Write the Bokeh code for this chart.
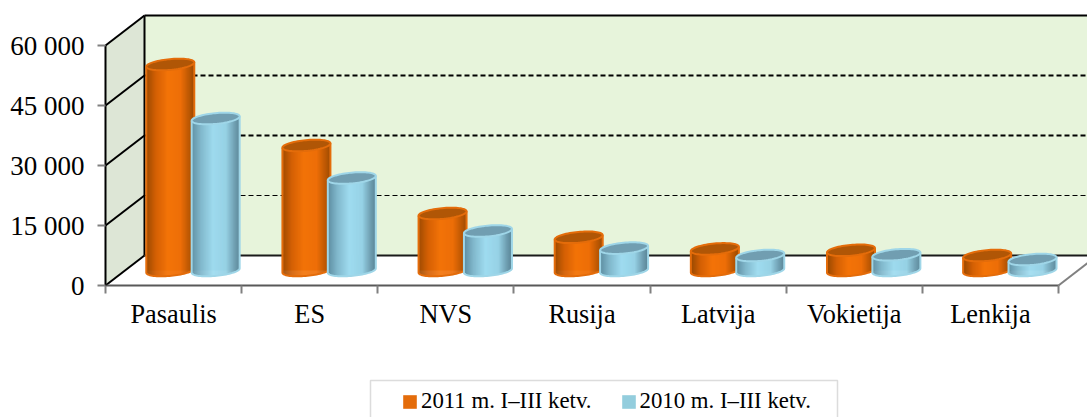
import numpy as np
from bokeh.embed import file_html
from bokeh.resources import INLINE
from bokeh.plotting import figure
from bokeh.models import (Range1d, FixedTicker, LinearAxis, Legend, LegendItem,
                          BoxAnnotation, ColumnDataSource)

categories = ["Pasaulis", "ES", "NVS", "Rusija", "Latvija", "Vokietija", "Lenkija"]
series_2011 = [51500, 31250, 14250, 8300, 5400, 5050, 3750]
series_2010 = [38000, 23125, 9875, 5600, 3750, 3950, 2750]
series_names = ["2011 m. I\u2013III ketv.", "2010 m. I\u2013III ketv."]
y_ticks = [0, 15000, 30000, 45000, 60000]
y_tick_labels = ["0", "15 000", "30 000", "45 000", "60 000"]

# page geometry (the page itself has no margin here: canvas origin is the window origin)
W, H = 1087, 417
LEFT, BOTTOM = 105, 285
GROUP_PX = 953 / 7
UY = 250.0          # value units per pixel
UX = 1 / GROUP_PX   # category units per pixel
DEPTH_X, DEPTH_Y = 39 * UX, 30 * UY

p = figure(width=W, height=H, output_backend="svg", toolbar_location=None,
           x_range=Range1d(-LEFT * UX, (W - LEFT) * UX),
           y_range=Range1d(-(H - BOTTOM) * UY, BOTTOM * UY),
           x_axis_type=None, y_axis_type=None,
           min_border_left=0, min_border_right=0, min_border_top=0, min_border_bottom=0)
p.outline_line_color = None
p.grid.visible = False
p.background_fill_color = "white"
p.border_fill_color = "white"

n = len(categories)
top_v = y_ticks[-1]

# walls and floor
p.quad(left=[DEPTH_X], right=[n + DEPTH_X], bottom=[DEPTH_Y], top=[top_v + DEPTH_Y],
       fill_color="#e7f4db", line_color=None)
p.patches(xs=[[0, DEPTH_X, DEPTH_X, 0]], ys=[[0, DEPTH_Y, top_v + DEPTH_Y, top_v]],
          fill_color="#dde6d6", line_color=None)

# dashed gridlines on back wall
widths = {15000: 1.2, 30000: 2.2, 45000: 2.2}
for v in y_ticks[1:-1]:
    p.segment(x0=[DEPTH_X], x1=[n + DEPTH_X], y0=[v + DEPTH_Y], y1=[v + DEPTH_Y],
              line_color="#000000", line_width=widths[v], line_dash="5 3")

# side wall diagonals
p.segment(x0=[0] * len(y_ticks), x1=[DEPTH_X] * len(y_ticks), y0=y_ticks,
          y1=[v + DEPTH_Y for v in y_ticks], line_color="#000000", line_width=2)
p.segment(x0=[DEPTH_X], x1=[DEPTH_X], y0=[DEPTH_Y], y1=[top_v + DEPTH_Y], line_color="#000000", line_width=2)
p.segment(x0=[DEPTH_X], x1=[n + DEPTH_X], y0=[top_v + DEPTH_Y], y1=[top_v + DEPTH_Y], line_color="#000000", line_width=2)
p.segment(x0=[DEPTH_X], x1=[n + DEPTH_X], y0=[DEPTH_Y], y1=[DEPTH_Y], line_color="#1a1a1a", line_width=2)
p.segment(x0=[n], x1=[n + DEPTH_X], y0=[0], y1=[DEPTH_Y], line_color="#808080", line_width=2)

A, B, TILT = 24.0, 5.4, 0.09
STRIPS = 48
SHIFT_X, SHIFT_Y = 19.4 * UX, 15 * UY
pos = [-1, -0.6, -0.1, 0.45, 0.8, 1]


def hex2rgb(h):
    return [int(h[i:i + 2], 16) for i in (1, 3, 5)]


def shades(stops):
    arr = np.array([hex2rgb(s) for s in stops], float)
    ts = np.linspace(-1, 1, STRIPS)
    return ["#%02x%02x%02x" % tuple(int(np.interp(t, pos, arr[:, c])) for c in range(3)) for t in ts]


def draw_series(values, offset, base, stops, edge, cap):
    cx = np.array([k + offset + SHIFT_X for k in range(n)])
    vals = np.array(values, float) + SHIFT_Y
    swatch = p.vbar(x=cx, top=vals, bottom=SHIFT_Y, width=(2 * A - 2) * UX, fill_color=base, line_color=None)
    cols = shades(stops)
    edges = np.linspace(-A, A, STRIPS + 1)
    mids = (edges[:-1] + edges[1:]) / 2
    sx, st, sb, sc = [], [], [], []
    for c, v in zip(cx, vals):
        for m, col in zip(mids, cols):
            sx.append(c + m * UX)
            st.append(v + TILT * m * UY)
            sb.append(SHIFT_Y + (TILT * m - B * np.sqrt(max(0, 1 - (m / A) ** 2))) * UY)
            sc.append(col)
    p.vbar(source=ColumnDataSource(dict(x=sx, top=st, bottom=sb, c=sc)), x="x", top="top", bottom="bottom",
           width=(2 * A / STRIPS + 0.4) * UX, fill_color="c", line_color=None)
    # outline of the body
    t = np.linspace(np.pi, 2 * np.pi, 40)
    oxs, oys, cxs, cys = [], [], [], []
    tt = np.linspace(0, 2 * np.pi, 72)
    for c, v in zip(cx, vals):
        dx = A * np.cos(t)
        ly = SHIFT_Y + (TILT * dx + B * np.sin(t)) * UY
        oxs.append([c - A * UX] + list(c + dx * UX) + [c + A * UX])
        oys.append([v - TILT * A * UY] + list(ly) + [v + TILT * A * UY])
        d2 = A * np.cos(tt)
        cxs.append(list(c + d2 * UX))
        cys.append(list(v + (TILT * d2 + B * np.sin(tt)) * UY))
    p.multi_line(xs=oxs, ys=oys, line_color=edge, line_width=2)
    p.patches(xs=cxs, ys=cys, fill_color=cap, line_color=edge, line_width=2)
    return swatch


r1 = draw_series(series_2011, 1 / 3, "#e46c0a",
                 ["#9a4a02", "#d46005", "#f47409", "#ee6f08", "#bc5804", "#9c4b03"], "#e46c0a", "#b05606")
r2 = draw_series(series_2010, 2 / 3, "#93cddd",
                 ["#5f8fa3", "#82b9cd", "#9fdcf0", "#97d2e6", "#6f9fb2", "#5c8899"], "#9fd6e8", "#719eb1")

# axes
yax = LinearAxis(ticker=FixedTicker(ticks=y_ticks), bounds=(0, top_v), fixed_location=0,
                 major_label_overrides={v: s for v, s in zip(y_ticks, y_tick_labels)})
yax.axis_line_color = "#000000"
yax.axis_line_width = 2
yax.major_tick_line_color = "#808080"
yax.major_tick_line_width = 2
yax.major_tick_in = 0
yax.major_tick_out = 8
yax.minor_tick_line_color = None
yax.major_label_standoff = 13
yax.major_label_text_font = "Liberation Serif"
yax.major_label_text_font_size = "27px"
yax.major_label_text_color = "#000000"
p.add_layout(yax, "left")

xax = LinearAxis(ticker=FixedTicker(ticks=[k + 0.5 for k in range(n)], minor_ticks=list(range(n + 1))),
                 bounds=(0, n), fixed_location=0,
                 major_label_overrides={k + 0.5: c for k, c in enumerate(categories)})
xax.axis_line_color = "#595959"
xax.axis_line_width = 2
xax.major_tick_line_color = None
xax.major_tick_in = 0
xax.major_tick_out = 0
xax.minor_tick_line_color = "#808080"
xax.minor_tick_line_width = 2
xax.minor_tick_in = 0
xax.minor_tick_out = 8
xax.major_label_standoff = 6
xax.major_label_text_font = "Liberation Serif"
xax.major_label_text_font_size = "26.3px"
xax.major_label_text_color = "#000000"
p.add_layout(xax, "below")

# legend
legend = Legend(items=[LegendItem(label=series_names[0], renderers=[r1]),
                       LegendItem(label=series_names[1], renderers=[r2])],
                orientation="horizontal", location=(401, 3), padding=0, margin=0, spacing=28,
                glyph_width=17, glyph_height=17, label_standoff=3,
                label_text_font="Liberation Serif", label_text_font_size="22.8px",
                label_text_color="#000000", border_line_color=None, background_fill_color=None)
p.add_layout(legend, "center")
p.add_layout(BoxAnnotation(left=370, right=837, top=37, bottom=-13,
                           left_units="screen", right_units="screen", top_units="screen", bottom_units="screen",
                           fill_color=None, line_color="#8c8c8c", line_width=1.5))

open("out.html", "w").write(file_html(p, INLINE))
